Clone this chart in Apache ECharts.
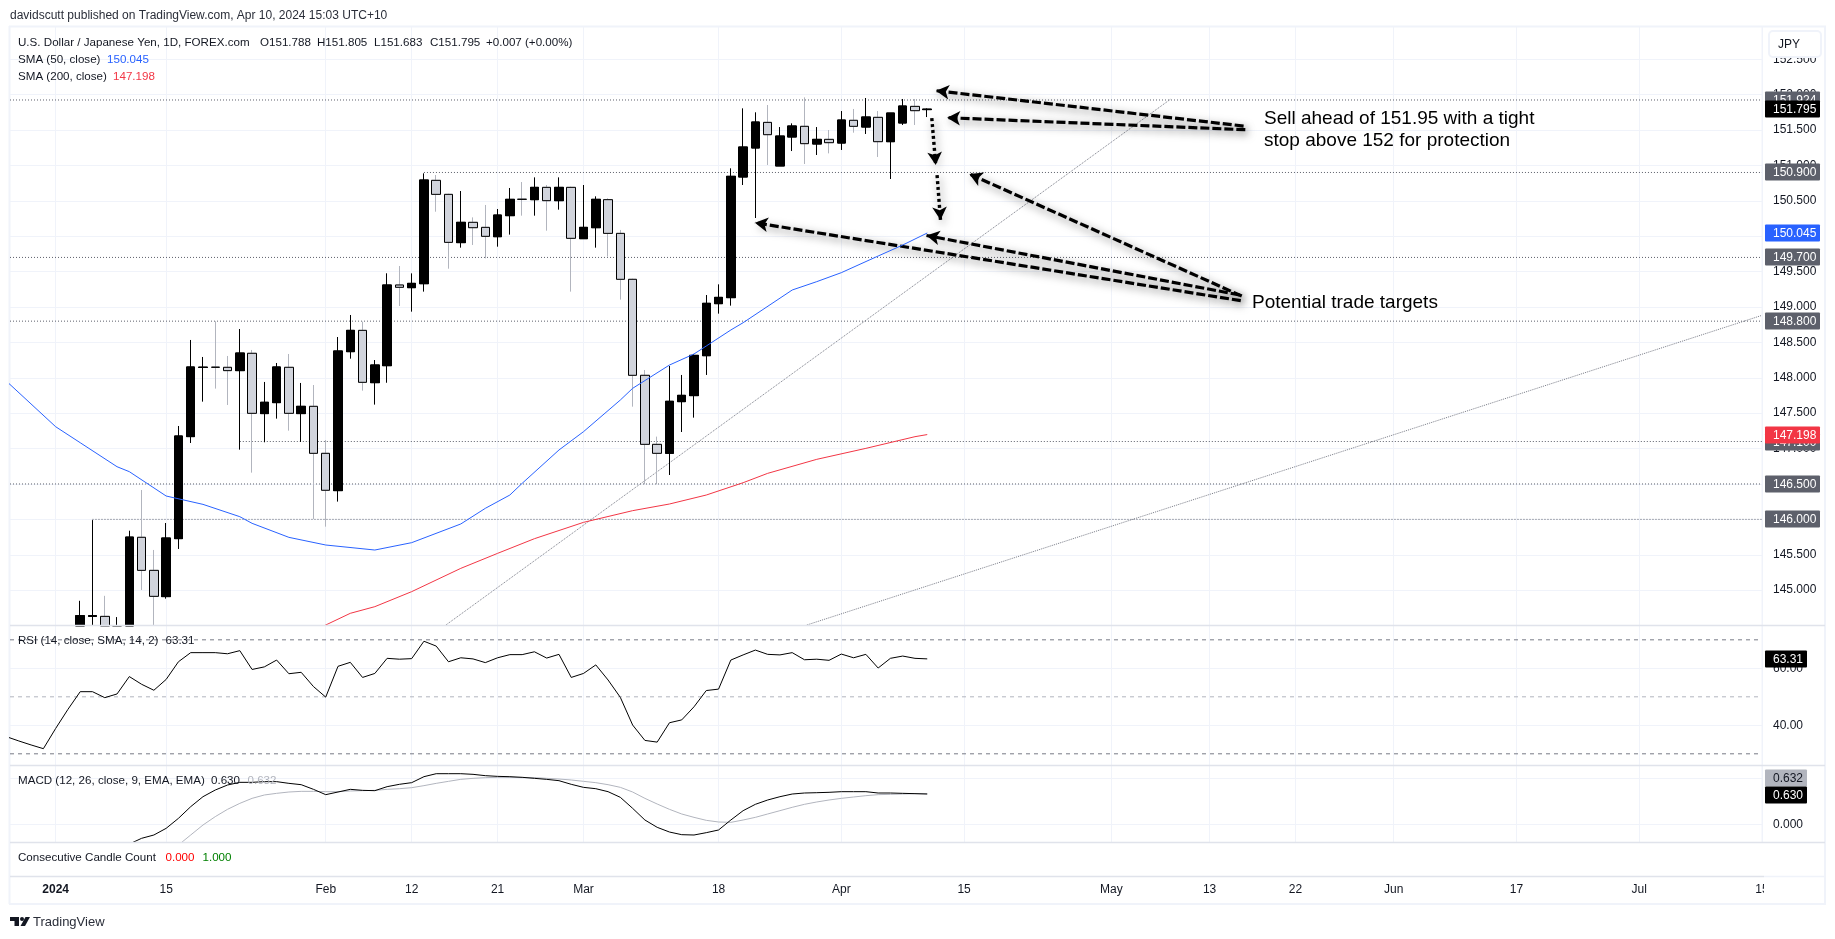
<!DOCTYPE html>
<html><head><meta charset="utf-8">
<style>html,body{margin:0;padding:0;background:#fff}#c{width:1835px;height:939px}</style>
<script src="https://cdn.jsdelivr.net/npm/echarts@6/dist/echarts.min.js"></script>
</head><body><div id="c"></div>
<script>
// ---- time axis (bar numbers: 2 Jan 2024 = 0, weekdays only)
const timeTickBars   = [0, 9, 22, 29, 36, 43, 54, 64, 74, 86, 94, 101, 109, 119, 129, 139];
const timeTickLabels = ['2024','15','Feb','12','21','Mar','18','Apr','15','May','13','22','Jun','17','Jul','15'];
const firstCandleBar = 2;
// ---- candles, first entry is bar 2 (parts below the pane cannot be read: they are held at the pane floor)
const opens  = [144.495,144.63,144.63,144.495,144.495,145.747,145.28,144.909,145.728,147.169,148.146,148.150,148.148,148.101,148.346,147.494,147.649,148.148,147.494,147.597,146.933,146.406,148.369,148.670,147.931,148.171,149.311,149.273,149.329,150.789,150.591,149.909,150.196,150.125,149.993,150.290,150.522,150.516,150.690,150.502,150.690,149.965,150.120,150.516,150.040,149.391,148.035,147.060,146.933,147.663,147.748,148.312,149.047,149.132,150.836,151.246,151.608,150.992,151.401,151.552,151.302,151.368,151.316,151.637,151.542,151.679,151.335,151.599,151.834,151.788];
const closes = [144.64,144.64,144.495,144.498,145.75,145.28,144.913,145.737,147.178,148.153,148.150,148.148,148.101,148.350,147.498,147.654,148.153,147.498,147.597,146.933,146.411,148.379,148.670,147.936,148.181,149.311,149.278,149.334,150.794,150.591,149.913,150.196,150.120,149.998,150.299,150.521,150.521,150.690,150.502,150.690,149.970,150.125,150.521,150.040,149.391,148.035,147.060,146.933,147.668,147.752,148.317,149.052,149.136,150.846,151.260,151.613,151.434,151.415,151.557,151.307,151.368,151.321,151.641,151.552,151.684,151.335,151.740,151.839,151.773,151.795];
const lows   = [144.495,144.495,144.495,144.495,144.495,145.003,144.495,144.88,145.582,147.079,147.663,147.847,147.616,146.985,146.660,147.089,147.423,147.253,147.093,146.006,145.897,146.251,148.270,147.818,147.621,147.93,149.014,148.934,149.217,150.346,149.541,149.838,149.876,149.687,149.852,150.022,150.290,150.290,150.078,150.375,149.217,149.965,149.838,149.711,149.104,147.592,146.495,146.495,146.627,147.234,147.437,148.040,148.906,149.019,150.723,150.257,151.006,150.992,151.203,151.020,151.147,151.170,151.218,151.462,151.444,151.119,150.808,151.571,151.571,151.683];
const highs  = [144.85,145.99,144.92,144.62,145.84,146.415,145.568,145.949,147.319,148.534,148.294,148.798,148.308,148.689,148.393,147.941,148.209,148.336,147.927,147.898,147.121,148.576,148.887,148.793,148.251,149.476,149.579,149.475,150.888,150.864,150.600,150.638,150.266,150.441,150.384,150.681,150.765,150.831,150.723,150.831,150.700,150.723,150.563,150.535,150.088,149.400,148.110,147.169,148.167,148.040,148.336,149.169,149.320,150.959,151.806,151.750,151.853,151.542,151.594,151.961,151.542,151.500,151.768,151.797,151.952,151.768,151.740,151.938,151.938,151.805];
// ---- moving averages: bars and values read at the line's vertices
const sma50Bars = [-4,0,2,5,6,9,12,15,16,19,22,26,29,33,35,37,38,41,43,46,47,50,52,53,55,56,60,62,64,67,69,71];
const sma50Vals = [147.950,147.309,147.083,146.744,146.674,146.330,146.212,146.038,145.944,145.746,145.638,145.567,145.671,145.935,146.156,146.344,146.509,146.980,147.239,147.686,147.851,148.180,148.336,148.449,148.675,148.778,149.240,149.358,149.485,149.720,149.875,150.045];
const sma200Bars = [21,22,24,26,29,33,36,39,43,47,50,53,56,58,62,66,70,71];
const sma200Vals = [144.43,144.508,144.673,144.767,144.979,145.308,145.520,145.727,145.958,146.123,146.217,146.344,146.518,146.650,146.848,147.003,147.168,147.198];
// ---- horizontal levels and the bar where each one begins
const levels      = [151.924,150.9,149.7,148.8,147.1,146.5,146.0];
const levelStarts = [-3.72,30,-3.72,-3.72,15,-3.72,3];
// ---- hand-drawn trend lines and arrows: [bar, price, bar, price]
const trendLines = [[31.79,144.508,90.84,151.938],[61.19,144.508,138.96,148.88]];
const dashArrows = [[96.77,151.556,71.72,152.055],[96.91,151.504,72.62,151.674],[96.62,149.155,74.43,150.879],[96.44,149.17,70.94,150.01],[96.54,149.089,56.96,150.19]];
const dotArrows  = [[71.37,151.669,71.69,151.006],[71.80,150.864,72.08,150.229]];
// ---- RSI, first entry is bar -4
const rsiFirstBar = -4;
const rsiVals = [36.0,34.5,33.1,31.8,38.9,45.6,51.8,51.8,49.7,51.0,57.1,54.4,52.3,56.1,62.3,65.5,65.5,65.5,65.1,66.2,59.6,60.5,62.9,58.1,58.6,53.6,49.9,60.7,62.1,56.8,58.2,63.5,63.2,63.4,69.5,67.8,62.3,63.7,63.3,62.0,63.7,64.8,64.8,65.8,63.6,64.9,56.8,58.2,61.2,55.9,49.8,40.1,34.7,34.1,40.9,41.9,46.5,52.2,52.7,62.9,64.7,66.4,64.9,64.7,65.5,63.0,63.2,62.8,65.0,63.7,64.9,60.1,63.5,64.3,63.5,63.31];
const rsiBands = [70,50,30];
// ---- MACD and signal
const macdFirstBar = 5;
const macdVals = [-0.559,-0.429,-0.305,-0.233,-0.088,0.129,0.383,0.600,0.745,0.854,0.912,0.912,0.927,0.927,0.890,0.861,0.760,0.644,0.702,0.760,0.738,0.731,0.818,0.869,0.905,1.035,1.100,1.100,1.100,1.086,1.057,1.042,1.035,1.021,0.999,0.977,0.948,0.869,0.803,0.774,0.709,0.586,0.347,0.093,-0.066,-0.168,-0.226,-0.233,-0.182,-0.124,0.093,0.296,0.434,0.528,0.600,0.658,0.680,0.687,0.695,0.709,0.709,0.709,0.680,0.680,0.673,0.666,0.658];
const signalFirstBar = 10;
const signalVals = [-0.450,-0.233,-0.016,0.166,0.325,0.455,0.564,0.637,0.673,0.702,0.716,0.716,0.709,0.709,0.724,0.731,0.738,0.760,0.774,0.796,0.840,0.890,0.934,0.977,0.999,1.014,1.021,1.021,1.014,1.014,0.999,0.984,0.963,0.934,0.905,0.861,0.803,0.702,0.564,0.441,0.325,0.224,0.151,0.086,0.050,0.042,0.093,0.151,0.224,0.296,0.369,0.434,0.485,0.528,0.564,0.593,0.622,0.644,0.651,0.658,0.666,0.666];
// ---- axis ticks
const priceTicks = [152.5,152,151.5,151,150.5,150,149.5,149,148.5,148,147.5,147,146.5,146,145.5,145];
const rsiTicks = [60,40];
const macdTicks = [1,0];
// ---- last-value tags
const smaFast = 150.045, smaSlow = 147.198, lastClose = 151.795, lastRsi = 63.31;
const lastMacd = 0.630, lastSignal = 0.632;

const FONT = '"Liberation Sans", Arial, sans-serif';
const INK = '#131722', GRID = '#f0f3fa', SEP = '#e0e3eb';
const X_MIN = -3.72, X_MAX = 139;
const panes = [
  {top:27, height:598, min:144.508, max:152.955, ticks:priceTicks, dec:3},
  {top:625, height:140, min:26.07, max:75.2, ticks:rsiTicks, dec:2},
  {top:765, height:77, min:-0.385, max:1.289, ticks:macdTicks, dec:3},
  {top:842, height:34, min:0, max:1, ticks:[], dec:0}
];
const grid = panes.map(p => ({left:10, width:1752, top:p.top, height:p.height}));
const xAxis = panes.map((p,i) => ({
  type:'value', gridIndex:i, min:X_MIN, max:X_MAX, position:'bottom',
  axisLine:{show:false},
  axisTick:{show:false, customValues:timeTickBars},
  splitLine:{show:i<3, lineStyle:{color:GRID,width:1}},
  axisLabel: i===3 ? {
    show:true, customValues:timeTickBars, margin:8, color:INK, fontFamily:FONT, fontSize:12, hideOverlap:false,
    showMinLabel:true, showMaxLabel:true,
    formatter:v => { const l = timeTickLabels[timeTickBars.indexOf(v)]; return l==='2024' ? '{b|2024}' : l; },
    rich:{b:{fontWeight:'bold',fontFamily:FONT,fontSize:12,color:INK}}
  } : {show:false}
}));
const yAxis = panes.map((p,i) => ({
  type:'value', gridIndex:i, min:p.min, max:p.max, position:'right', scale:true,
  show:i<3,
  axisLine:{show:false},
  axisTick:{show:false, customValues:p.ticks},
  splitLine:{show:true, lineStyle:{color:GRID,width:1}},
  axisLabel:{show:true, customValues:p.ticks, margin:11, color:INK, fontFamily:FONT, fontSize:12, hideOverlap:false,
             formatter:v => v.toFixed(p.dec)}
}));

const barsOf = (first, vals) => vals.map((v,i) => [first+i, v]);
const zip = (bars, vals) => bars.map((b,i) => [b, vals[i]]);
const plain = (name, data, color, g, z, width) => ({
  type:'line', name, data, xAxisIndex:g, yAxisIndex:g, showSymbol:false, symbol:'none', z:z||3,
  lineStyle:{color, width:width||1}, silent:true, animation:false, clip:true
});
const dashedBetween = (d, type, color, g, z) => {
  const s = plain('ref', d, color, g, z); s.lineStyle.type = type; return s;
};
const tag = (vals, texts, g, bg, fg, w) => ({
  type:'custom', xAxisIndex:g, yAxisIndex:g, z:20, silent:true, animation:false, clip:false,
  data: vals.map(v => [X_MAX, v]),
  renderItem:(params, api) => {
    const c = api.coord([api.value(0), api.value(1)]);
    const y = Math.round(c[1]);
    return {type:'group', children:[
      {type:'rect', shape:{x:c[0]+3, y:y-8.5, width:w, height:17, r:1}, style:{fill:bg}},
      {type:'text', style:{text:texts[params.dataIndex], x:c[0]+11, y:y+0.5, verticalAlign:'middle', fill:fg,
        font:'12px '+FONT}}
    ]};
  }
});

const candleRows = opens.map((o,i) => [firstCandleBar+i, o, closes[i], lows[i], highs[i]]);
const bodyRows = opens.map((o,i) => [firstCandleBar+i, o, closes[i], Math.min(o,closes[i]), Math.max(o,closes[i])]);
const candle = (data, wickDown) => ({
  type:'candlestick', xAxisIndex:0, yAxisIndex:0, data, barWidth:9, z:4, silent:true, animation:false, clip:true,
  encode:{x:0, y:[1,2,3,4]},
  itemStyle:{color:'#000000', color0:'#d1d4dc', borderColor:'#000000', borderColor0:wickDown, borderWidth:1}
});
const arrowSeries = (rows, type, width) => ({
  type:'line', xAxisIndex:0, yAxisIndex:0, data:[], z:8, silent:true, animation:false,
  markLine:{silent:true, animation:false, symbol:['none','arrow'], symbolSize:[11,13], label:{show:false},
    lineStyle:{color:'#000', width, type, opacity:1, shadowBlur:8, shadowColor:'rgba(0,0,0,0.55)', shadowOffsetX:2, shadowOffsetY:3},
    data:rows.map(r => [{coord:[r[0],r[1]]},{coord:[r[2],r[3]]}])}
});

const series = [
  ...levels.map((l,i) => dashedBetween([[levelStarts[i],l],[X_MAX,l]], [1,2], '#5d606b', 0, 2)),
  ...trendLines.map(r => dashedBetween([[r[0],r[1]],[r[2],r[3]]], [1,1], '#787b86', 0, 2)),
  candle(candleRows, '#b2b5be'),
  candle(bodyRows, '#000000'),
  plain('SMA 50', zip(sma50Bars, sma50Vals), '#2962ff', 0, 5),
  plain('SMA 200', zip(sma200Bars, sma200Vals), '#f23645', 0, 5),
  arrowSeries(dashArrows, [9,3], 3.2),
  arrowSeries(dotArrows, [3,3], 3.4),
  ...rsiBands.map(b => dashedBetween([[X_MIN,b],[X_MAX,b]], [4,4], b===50?'#b2b5be':'#787b86', 1, 2)),
  plain('RSI', barsOf(rsiFirstBar, rsiVals), '#000000', 1, 5),
  plain('Signal', barsOf(signalFirstBar, signalVals), '#b2b5be', 2, 4),
  plain('MACD', barsOf(macdFirstBar, macdVals), '#000000', 2, 5),
  tag(levels, levels.map(v=>v.toFixed(3)), 0, '#5d606b', '#ffffff', 55),
  tag([lastClose],[lastClose.toFixed(3)], 0, '#000000', '#ffffff', 55),
  tag([smaFast],[smaFast.toFixed(3)], 0, '#2962ff', '#ffffff', 55),
  tag([smaSlow],[smaSlow.toFixed(3)], 0, '#f23645', '#ffffff', 55),
  tag([lastRsi],[lastRsi.toFixed(2)], 1, '#000000', '#ffffff', 42),
  // the signal tag is pushed up to the gridline so it clears the MACD tag
  tag([macdTicks[0]],[lastSignal.toFixed(3)], 2, '#b2b5be', '#131722', 42),
  tag([lastMacd],[lastMacd.toFixed(3)], 2, '#000000', '#ffffff', 42)
];

const txt = (x, y, text, fill, size, weight) => ({
  type:'text', z:30, silent:true, x, y,
  style:{text, fill:fill||INK, font:(weight?weight+' ':'')+(size||12)+'px '+FONT, verticalAlign:'middle'}
});
const hline = (y, x1, x2, color, w) => ({type:'line', z:6, silent:true, shape:{x1,y1:y,x2,y2:y}, style:{stroke:color,lineWidth:w||1}});
const vline = (x, y1, y2, color, w) => ({type:'line', z:1, silent:true, shape:{x1:x,y1,x2:x,y2}, style:{stroke:color,lineWidth:w||1}});
const LBL = 11.6;
const graphic = [
  // frame and pane separators
  hline(26.5,9,1826,GRID,2), hline(904,9,1826,GRID,2), vline(9.5,26,904,GRID,2), vline(1825,26,904,GRID,2),
  hline(625.5,10,1825,SEP,1.5), hline(765.5,10,1825,SEP,1.5), hline(842.5,10,1825,SEP,1.5), hline(876.5,10,1764,SEP,1.5),
  hline(876.5,1764,1825,GRID,1.5), vline(1762,27,842,GRID,1),
  // right axis cover where the last time label is cropped
  {type:'rect', z:25, silent:true, shape:{x:1764,y:878,width:60,height:25}, style:{fill:'#fff'}},
  // currency button
  {type:'rect', z:25, silent:true, shape:{x:1769,y:31,width:52,height:26,r:4}, style:{fill:'#fff',stroke:GRID,lineWidth:2}},
  txt(1778,44.5,'JPY',INK,12),
  // titles
  txt(10,15.5,'davidscutt published on TradingView.com, Apr 10, 2024 15:03 UTC+10','#2a2e39',12),
  txt(18,42.5,'U.S. Dollar / Japanese Yen, 1D, FOREX.com',INK,LBL),
  txt(260,42.5,'O151.788',INK,LBL), txt(317,42.5,'H151.805',INK,LBL), txt(374,42.5,'L151.683',INK,LBL),
  txt(430,42.5,'C151.795',INK,LBL), txt(486,42.5,'+0.007 (+0.00%)',INK,LBL),
  txt(18,59.5,'SMA (50, close)',INK,LBL), txt(107,59.5,'150.045','#2962ff',LBL),
  txt(18,76.5,'SMA (200, close)',INK,LBL), txt(113,76.5,'147.198','#f23645',LBL),
  txt(18,641,'RSI (14, close, SMA, 14, 2)',INK,LBL), txt(165.5,641,'63.31',INK,LBL),
  txt(18,781,'MACD (12, 26, close, 9, EMA, EMA)',INK,LBL), txt(211,781,'0.630',INK,LBL), txt(247.5,781,'0.632','#b2b5be',LBL),
  txt(18,858,'Consecutive Candle Count',INK,LBL), txt(165.5,858,'0.000','#ff0000',LBL), txt(202.5,858,'1.000','#008000',LBL),
  // notes
  txt(1264,119,'Sell ahead of 151.95 with a tight','#000',19),
  txt(1264,141,'stop above 152 for protection','#000',19),
  txt(1252,303,'Potential trade targets','#000',19),
  // footer
  {type:'polygon', z:30, silent:true, shape:{points:[[10,917],[19,917],[19,926],[14.5,926],[14.5,921],[10,921]]}, style:{fill:INK}},
  {type:'circle', z:30, silent:true, shape:{cx:22,cy:919,r:2}, style:{fill:INK}},
  {type:'polygon', z:30, silent:true, shape:{points:[[25.5,917],[30,917],[25,926],[20.5,926]]}, style:{fill:INK}},
  txt(33,922,'TradingView','#2a2e39',13)
];

const chart = echarts.init(document.getElementById('c'), null, {renderer:'canvas', width:1835, height:939});
chart.setOption({animation:false, backgroundColor:'#ffffff', grid, xAxis, yAxis, series, graphic, tooltip:{show:false}});
</script></body></html>
